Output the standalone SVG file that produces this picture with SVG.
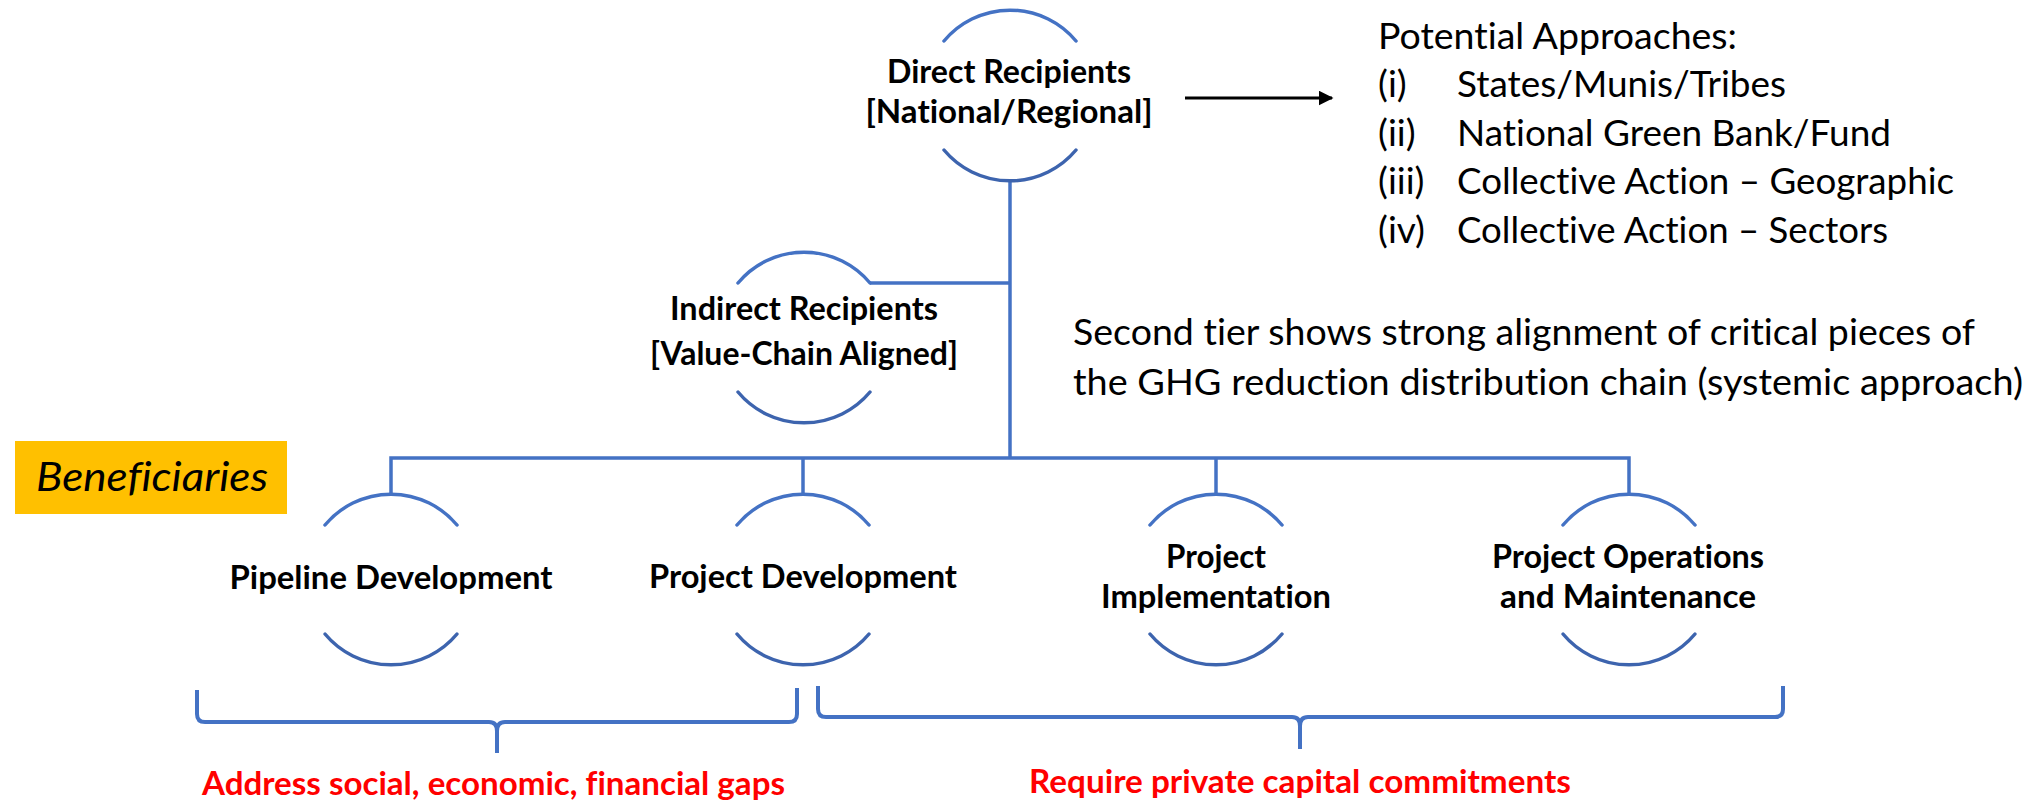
<svg xmlns="http://www.w3.org/2000/svg" width="2031" height="803" viewBox="0 0 2031 803">
<defs>
<style>
text{font-variant-ligatures:none}
.arcT{fill:none;stroke:#4472C4;stroke-width:3.5;stroke-linecap:round}
.arcB{fill:none;stroke:#3D64AE;stroke-width:3.5;stroke-linecap:round}
.conn{fill:none;stroke:#4472C4;stroke-width:3.5}
.brace{fill:none;stroke:#4472C4;stroke-width:4;stroke-linejoin:round}
.nt{font-family:Lato,"Liberation Sans",sans-serif;font-weight:bold;font-size:32px;fill:#000;text-anchor:middle}
.rt{font-family:Lato,"Liberation Sans",sans-serif;font-size:37px;fill:#000}
.red{font-family:Lato,"Liberation Sans",sans-serif;font-weight:bold;font-size:33px;fill:#FF0000}
.ben{font-family:Lato,"Liberation Sans",sans-serif;font-style:italic;font-size:41px;fill:#000}
</style>
<marker id="ah" viewBox="0 0 10 10" refX="9" refY="5" markerWidth="5" markerHeight="5" orient="auto" markerUnits="strokeWidth">
<path d="M0,0 L10,5 L0,10 z" fill="#000"/>
</marker>
</defs>
<rect width="2031" height="803" fill="#fff"/>

<g id="connectors">
<path class="conn" d="M1010,181 V458"/>
<path class="conn" d="M870,283 H1010"/>
<path class="conn" d="M391,494 V458 H1629 V494"/>
<path class="conn" d="M803,458 V494"/>
<path class="conn" d="M1216,458 V494"/>
<path d="M1185,98 H1332" stroke="#000" stroke-width="3" fill="none" marker-end="url(#ah)"/>
</g>

<g id="node-direct">
<path class="arcT" d="M944,41 A86,86 0 0 1 1076,41"/>
<path class="arcB" d="M944,150 A86,86 0 0 0 1076,150"/>
<text class="nt" x="1009" y="83" textLength="244" lengthAdjust="spacingAndGlyphs">Direct Recipients</text>
<text class="nt" x="1009" y="123" textLength="287" lengthAdjust="spacingAndGlyphs">[National/Regional]</text>
</g>

<g id="node-indirect">
<path class="arcT" d="M738,283 A86,86 0 0 1 870,283"/>
<path class="arcB" d="M738,392 A86,86 0 0 0 870,392"/>
<text class="nt" x="804" y="320" textLength="268" lengthAdjust="spacingAndGlyphs">Indirect Recipients</text>
<text class="nt" x="804" y="365" textLength="308" lengthAdjust="spacingAndGlyphs">[Value-Chain Aligned]</text>
</g>

<g id="node-pipeline">
<path class="arcT" d="M325,525 A86,86 0 0 1 457,525"/>
<path class="arcB" d="M325,634 A86,86 0 0 0 457,634"/>
<text class="nt" x="391" y="589" textLength="323" lengthAdjust="spacingAndGlyphs">Pipeline Development</text>
</g>

<g id="node-project-dev">
<path class="arcT" d="M737,525 A86,86 0 0 1 869,525"/>
<path class="arcB" d="M737,634 A86,86 0 0 0 869,634"/>
<text class="nt" x="803" y="588" textLength="308" lengthAdjust="spacingAndGlyphs">Project Development</text>
</g>

<g id="node-implementation">
<path class="arcT" d="M1150,525 A86,86 0 0 1 1282,525"/>
<path class="arcB" d="M1150,634 A86,86 0 0 0 1282,634"/>
<text class="nt" x="1216" y="568" textLength="100" lengthAdjust="spacingAndGlyphs">Project</text>
<text class="nt" x="1216" y="608" textLength="230" lengthAdjust="spacingAndGlyphs">Implementation</text>
</g>

<g id="node-operations">
<path class="arcT" d="M1563,525 A86,86 0 0 1 1695,525"/>
<path class="arcB" d="M1563,634 A86,86 0 0 0 1695,634"/>
<text class="nt" x="1628" y="568" textLength="272" lengthAdjust="spacingAndGlyphs">Project Operations</text>
<text class="nt" x="1628" y="608" textLength="256" lengthAdjust="spacingAndGlyphs">and Maintenance</text>
</g>

<g id="beneficiaries">
<rect x="15" y="441" width="272" height="73" fill="#FFC000"/>
<text class="ben" x="36" y="491" textLength="232" lengthAdjust="spacingAndGlyphs">Beneficiaries</text>
</g>

<g id="approaches">
<text class="rt" x="1378" y="49" textLength="359" lengthAdjust="spacingAndGlyphs">Potential Approaches:</text>
<text class="rt" x="1378" y="97">(i)</text>
<text class="rt" x="1457" y="97" textLength="329" lengthAdjust="spacingAndGlyphs">States/Munis/Tribes</text>
<text class="rt" x="1378" y="146">(ii)</text>
<text class="rt" x="1457" y="146" textLength="434" lengthAdjust="spacingAndGlyphs">National Green Bank/Fund</text>
<text class="rt" x="1378" y="194">(iii)</text>
<text class="rt" x="1457" y="194" textLength="497" lengthAdjust="spacingAndGlyphs">Collective Action – Geographic</text>
<text class="rt" x="1378" y="243">(iv)</text>
<text class="rt" x="1457" y="243" textLength="431" lengthAdjust="spacingAndGlyphs">Collective Action – Sectors</text>
</g>

<g id="second-tier-note">
<text class="rt" x="1073" y="345" textLength="902" lengthAdjust="spacingAndGlyphs">Second tier shows strong alignment of critical pieces of</text>
<text class="rt" x="1073" y="395" textLength="950" lengthAdjust="spacingAndGlyphs">the GHG reduction distribution chain (systemic approach)</text>
</g>

<g id="brace-left">
<path class="brace" d="M197,690 V714 Q197,722 205,722 H489 Q497,722 497,731 V753 M497,731 Q497,722 505,722 H789 Q797,722 797,714 V688"/>
<text class="red" x="202" y="795" textLength="583" lengthAdjust="spacingAndGlyphs">Address social, economic, financial gaps</text>
</g>

<g id="brace-right">
<path class="brace" d="M818,686 V709 Q818,717 826,717 H1292 Q1300,717 1300,726 V749 M1300,726 Q1300,717 1308,717 H1775 Q1783,717 1783,709 V686"/>
<text class="red" x="1029" y="793" textLength="542" lengthAdjust="spacingAndGlyphs">Require private capital commitments</text>
</g>
</svg>
